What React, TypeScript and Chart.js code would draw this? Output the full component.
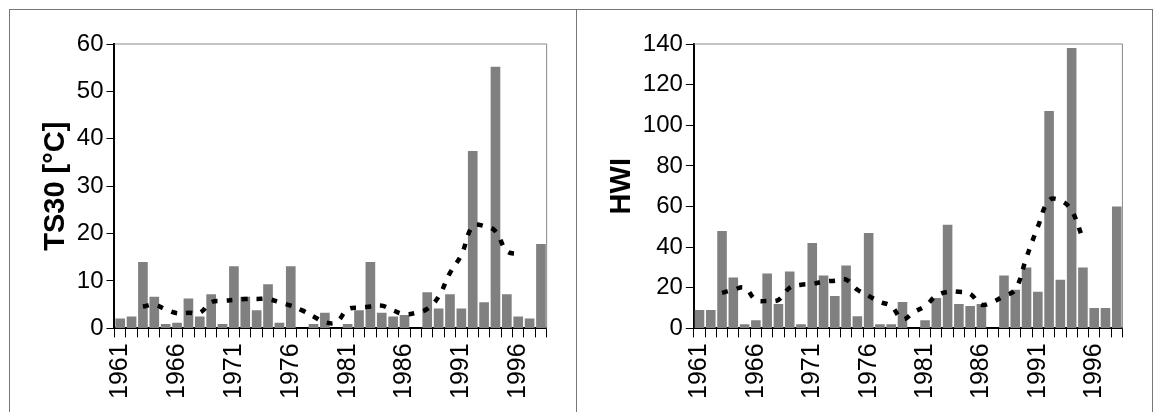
import React, { useEffect, useRef } from 'react';
import Chart from 'chart.js/auto';

const years = Array.from({ length: 38 }, (_, i) => String(1961 + i));

const ts30Values = [2.1, 2.5, 14, 6.7, 0.9, 1.2, 6.3, 2.5, 7.2, 0.9, 13.1, 6.7, 3.8, 9.3, 1.2, 13.1, 0, 0.9, 3.3, 0, 0.9, 3.8, 14, 3.3, 2.5, 2.8, 0, 7.6, 4.2, 7.2, 4.2, 37.4, 5.5, 55.2, 7.2, 2.5, 2.1, 17.8];
const ts30Trend = [null, null, 4.6, 5.0, 4.0, 3.2, 3.3, 3.3, 5.5, 5.8, 6.0, 6.2, 6.2, 6.2, 5.5, 4.8, 3.8, 2.5, 1.3, 1.3, 4.0, 4.4, 4.6, 4.8, 3.8, 3.0, 3.3, 4.1, 6.7, 11.7, 15.5, 21.6, 21.6, 20.5, 16.3, 15.7, null, null];

const hwiValues = [9, 9, 48, 25, 2, 4, 27, 12, 28, 2, 42, 26, 16, 31, 6, 47, 2, 2, 13, 0, 4, 15, 51, 12, 11, 12, 0, 26, 19, 30, 18, 107, 24, 138, 30, 10, 10, 60];
const hwiTrend = [null, null, 17.5, 19, 20, 14, 13.5, 14, 20, 21.5, 22, 23, 23.5, 24, 19, 16, 13, 11, 4.5, 8, 11, 16, 18, 18, 17, 11.7, 13, 16, 19, 35, 50, 63, 63, 58, 44, null, null, null];

interface PanelProps {
    values: number[];
    trend: (number | null)[];
    title: string;
    max: number;
    step: number;
    left: number;
    width: number;
    padLeft: number;
    padRight: number;
}

const Panel: React.FC<PanelProps> = ({ values, trend, title, max, step, left, width, padLeft, padRight }) => {
    const ref = useRef<HTMLCanvasElement | null>(null);

    useEffect(() => {
        const ctx = ref.current?.getContext('2d');
        if (!ctx) return;
        const family = 'Liberation Sans, Arial';
        const chart = new Chart(ctx, {
            type: 'bar',
            data: {
                labels: years,
                datasets: [
                    {
                        type: 'line',
                        data: trend,
                        borderColor: '#000',
                        borderWidth: 4.5,
                        borderDash: [6, 9],
                        pointRadius: 0,
                        tension: 0.4,
                        fill: false,
                        spanGaps: false,
                    },
                    {
                        type: 'bar',
                        data: values,
                        backgroundColor: '#808080',
                        barPercentage: 0.85,
                        categoryPercentage: 1,
                    },
                ],
            },
            options: {
                animation: false,
                responsive: false,
                layout: { padding: { top: 34, right: padRight, left: padLeft, bottom: 8 } },
                plugins: { legend: { display: false }, tooltip: { enabled: false } },
                scales: {
                    x: {
                        offset: true,
                        grid: { drawOnChartArea: false, offset: true, color: '#000', tickLength: 9, lineWidth: 1 },
                        border: { color: '#000', width: 2 },
                        ticks: {
                            autoSkip: false,
                            maxRotation: 90,
                            minRotation: 90,
                            color: '#000',
                            font: { family, size: 25 },
                            padding: 6,
                            callback: (_v, i) => (i % 5 === 0 ? years[i] : ''),
                        },
                    },
                    y: {
                        min: 0,
                        max,
                        ticks: { stepSize: step, color: '#000', font: { family, size: 24 }, padding: 3 },
                        grid: { drawOnChartArea: false, color: '#000', tickLength: 8 },
                        border: { color: '#000', width: 2 },
                        title: {
                            display: true,
                            text: title,
                            color: '#000',
                            padding: 0,
                            font: { family, size: 29, weight: 'bold' },
                        },
                    },
                },
            },
            plugins: [
                {
                    id: 'frame',
                    afterDraw(c) {
                        const a = c.chartArea;
                        const g = c.ctx;
                        g.save();
                        g.strokeStyle = '#888';
                        g.lineWidth = 1;
                        g.beginPath();
                        g.moveTo(a.left, a.top);
                        g.lineTo(a.right, a.top);
                        g.lineTo(a.right, a.bottom);
                        g.stroke();
                        g.restore();
                    },
                },
            ],
        });
        return () => chart.destroy();
    }, [values, trend, title, max, step, width, padLeft, padRight]);

    return (
        <div style={{ position: 'absolute', left, top: 9, width, height: 403, borderLeft: '1px solid #777', borderTop: '1px solid #777', background: '#fff' }}>
            <canvas ref={ref} width={width} height={403} />
        </div>
    );
};

export default function App() {
    return (
        <div style={{ position: 'fixed', left: 0, top: 0, width: 1153, height: 412, background: '#fff' }}>
            <Panel values={ts30Values} trend={ts30Trend} title="TS30 [°C]" max={60} step={10} left={9} width={567} padLeft={29} padRight={3} />
            <Panel values={hwiValues} trend={hwiTrend} title="HWI" max={140} step={20} left={576} width={576} padLeft={28} padRight={18} />
            <div style={{ position: 'absolute', left: 1152, top: 9, width: 1, height: 403, background: '#777' }} />
        </div>
    );
}
